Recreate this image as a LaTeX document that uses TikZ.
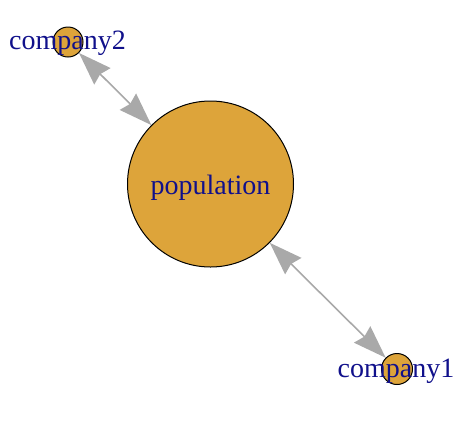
\documentclass[tikz,border=0pt]{standalone}
\usepackage{fontspec}
\setmainfont{Liberation Serif}
\usetikzlibrary{arrows.meta}
\pgfdeclarelayer{edgelayer}
\pgfsetlayers{edgelayer,main}
\definecolor{vfill}{RGB}{221,164,58}
\definecolor{lblblue}{RGB}{16,16,139}
\definecolor{edgegray}{RGB}{169,169,169}
\begin{document}
\begin{tikzpicture}[x=1pt,y=-1pt,
  vertex/.style={circle,draw=black,line width=1pt,fill=vfill,inner sep=0pt},
  lbl/.style={anchor=base,inner sep=0pt,text=lblblue,font=\fontsize{28}{30}\selectfont},
  edge/.style={draw=edgegray,line width=1.6pt,
    {Stealth[length=33pt,width=23pt,inset=3pt]}-{Stealth[length=33pt,width=23pt,inset=3pt]}}]
\useasboundingbox (0,0) rectangle (468,424);
\node[vertex,minimum size=166pt] (pop) at (210.5,184) {};
\node[vertex,minimum size=30pt] (c2) at (68,42) {};
\node[vertex,minimum size=31pt] (c1) at (397,369) {};
\begin{pgfonlayer}{edgelayer}
\draw[edge] (c2) -- (pop);
\draw[edge] (pop) -- (c1);
\end{pgfonlayer}
\node[lbl] (lpop) at (210.5,194) {population};
\node[lbl] (lc2) at (67.5,49.5) {company2};
\node[lbl] (lc1) at (396,377.5) {company1};
\end{tikzpicture}
\end{document}
